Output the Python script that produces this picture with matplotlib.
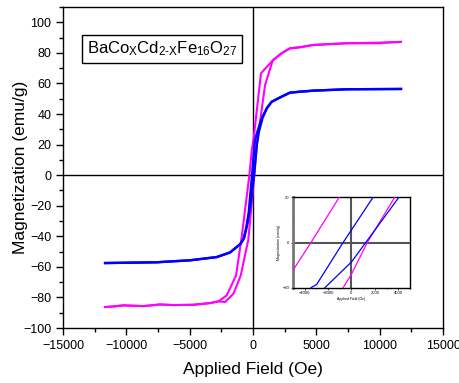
import matplotlib
matplotlib.use("Agg")
import matplotlib.pyplot as plt
from matplotlib.ticker import MultipleLocator

plt.rcParams['font.family'] = ['Liberation Sans', 'DejaVu Sans']
plt.rcParams['mathtext.fontset'] = 'custom'
plt.rcParams['mathtext.rm'] = 'Liberation Sans'
plt.rcParams['mathtext.it'] = 'Liberation Sans'
plt.rcParams['mathtext.default'] = 'regular'

# ---- main loop data (Oe, emu/g) ----
mag_desc_h = [11680, 10550, 7400, 4760, 3710, 2920, 2260, 1550, 630, 30, -100, -290, -890, -1340, -2080, -2740, -3390, -4710, -6290, -7340, -8660, -10240, -11030, -11680]
mag_desc_m = [87.2, 86.8, 86.3, 85.2, 83.7, 83.0, 79.8, 75.0, 66.7, 23.0, 16.4, 0.0, -40.0, -65.6, -78.7, -82.6, -83.7, -84.8, -85.0, -84.6, -85.7, -85.2, -85.9, -86.3]
mag_asc_h = [-11680, -11030, -10240, -8660, -7340, -6290, -4710, -3390, -2740, -2210, -1550, -970, -370, 100, 300, 950, 1550, 2260, 2920, 3710, 4760, 7400, 10030, 10550, 11680]
mag_asc_m = [-86.3, -85.9, -85.2, -85.7, -84.6, -85.0, -84.8, -83.7, -82.6, -83.0, -77.6, -65.6, -42.0, 0.0, 20.0, 59.0, 75.0, 79.8, 83.0, 83.7, 85.2, 86.3, 86.3, 86.8, 87.2]

blue_desc_h = [11680, 9500, 7400, 4760, 3710, 2920, 2260, 1470, 1080, 690, 400, 150, -80, -350, -550, -760, -1000, -1290, -1820, -2870, -4970, -7600, -11680]
blue_desc_m = [56.4, 56.3, 56.2, 55.3, 54.6, 54.0, 51.4, 48.0, 43.7, 37.2, 30.0, 23.0, 0.0, -25.0, -35.0, -42.0, -45.0, -47.0, -50.6, -53.6, -55.7, -57.0, -57.5]
blue_asc_h = [-11680, -7600, -4970, -2870, -1820, -1290, -1000, -700, -450, -200, 80, 300, 450, 750, 1100, 1470, 2260, 2920, 3710, 4760, 7400, 11680]
blue_asc_m = [-57.5, -57.0, -55.7, -53.6, -50.6, -47.0, -45.0, -41.0, -32.0, -20.0, 0.0, 20.0, 28.0, 37.5, 44.0, 48.0, 51.4, 54.0, 54.6, 55.3, 56.2, 56.4]

# ---- inset data ----
in_mag1_h = [-5000, -3460, -1055]
in_mag1_m = [-12.3, 0.0, 20.0]
in_mag2_h = [-715, 0, 1350, 3690]
in_mag2_m = [-20.0, -14.0, 0.0, 20.0]
in_blue1_h = [-3460, -2980, -715, 1840]
in_blue1_m = [-20.0, -18.6, 0.0, 20.0]
in_blue2_h = [-2270, 0, 1220, 4050]
in_blue2_m = [-20.0, -8.6, 0.0, 20.0]

x_ticks = [-15000, -10000, -5000, 0, 5000, 10000, 15000]
y_ticks = [-100, -80, -60, -40, -20, 0, 20, 40, 60, 80, 100]

MAG = '#ff00ff'
BLUE = '#0000ff'

fig = plt.figure(figsize=(4.59, 3.83), dpi=100)
ax = fig.add_axes([0.1373, 0.1436, 0.828, 0.838])

ax.axhline(0, color='black', lw=1.0, zorder=1)
ax.axvline(0, color='black', lw=1.0, zorder=1)

ax.plot(mag_desc_h, mag_desc_m, color=MAG, lw=1.5, zorder=3)
ax.plot(mag_asc_h, mag_asc_m, color=MAG, lw=1.5, zorder=3)
ax.plot(blue_desc_h, blue_desc_m, color=BLUE, lw=1.7, zorder=4)
ax.plot(blue_asc_h, blue_asc_m, color=BLUE, lw=1.7, zorder=4)

ax.set_xlim(-15000, 15000)
ax.set_ylim(-100, 110)
ax.set_xticks(x_ticks)
ax.set_yticks(y_ticks)
ax.xaxis.set_minor_locator(MultipleLocator(2500))
ax.yaxis.set_minor_locator(MultipleLocator(10))
ax.tick_params(which='both', direction='out', top=False, right=False, labelsize=9, width=1.0)
ax.tick_params(which='major', length=5)
ax.tick_params(which='minor', length=3)
for s in ax.spines.values():
    s.set_linewidth(1.0)

ax.set_xlabel('Applied Field (Oe)', fontsize=12.5)
ax.set_ylabel('Magnetization (emu/g)', fontsize=12.5)
ax.xaxis.set_label_coords(0.5, -0.105)
ax.yaxis.set_label_coords(-0.092, 0.5)

ax.text(0.26, 0.869, r'BaCo$_X$Cd$_{2\text{-}X}$Fe$_{16}$O$_{27}$', transform=ax.transAxes,
        ha='center', va='center', fontsize=12,
        bbox=dict(boxstyle='square,pad=0.28', fc='white', ec='black', lw=1.0))

# ---- inset ----
ins = fig.add_axes([0.6383, 0.2489, 0.2549, 0.2358])
ins.axhline(0, color='#555555', lw=1.5, zorder=1)
ins.axvline(0, color='#555555', lw=1.5, zorder=1)
ins.plot(in_mag1_h, in_mag1_m, color=MAG, lw=0.9, zorder=3)
ins.plot(in_mag2_h, in_mag2_m, color=MAG, lw=0.9, zorder=3)
ins.plot(in_blue1_h, in_blue1_m, color=BLUE, lw=0.9, zorder=3)
ins.plot(in_blue2_h, in_blue2_m, color=BLUE, lw=0.9, zorder=3)
ins.set_xlim(-5000, 5000)
ins.set_ylim(-20, 20)
ins.set_xticks([-4000, -2000, 0, 2000, 4000])
ins.set_yticks([-20, 0, 20])
ins.yaxis.set_minor_locator(MultipleLocator(10))
ins.xaxis.set_minor_locator(MultipleLocator(1000))
ins.tick_params(which='both', direction='out', top=False, right=False, labelsize=3, width=0.5, length=1.5, pad=1)
ins.tick_params(which='minor', length=1)
ins.spines['left'].set_color('#777777')
ins.spines['left'].set_linewidth(2.0)
for k in ['top', 'right', 'bottom']:
    ins.spines[k].set_linewidth(1.0)
ins.set_xlabel('Applied Field (Oe)', fontsize=2.5, labelpad=1)
ins.set_ylabel('Magnetization (emu/g)', fontsize=2.5, labelpad=1)

fig.savefig('out.png', dpi=100)
